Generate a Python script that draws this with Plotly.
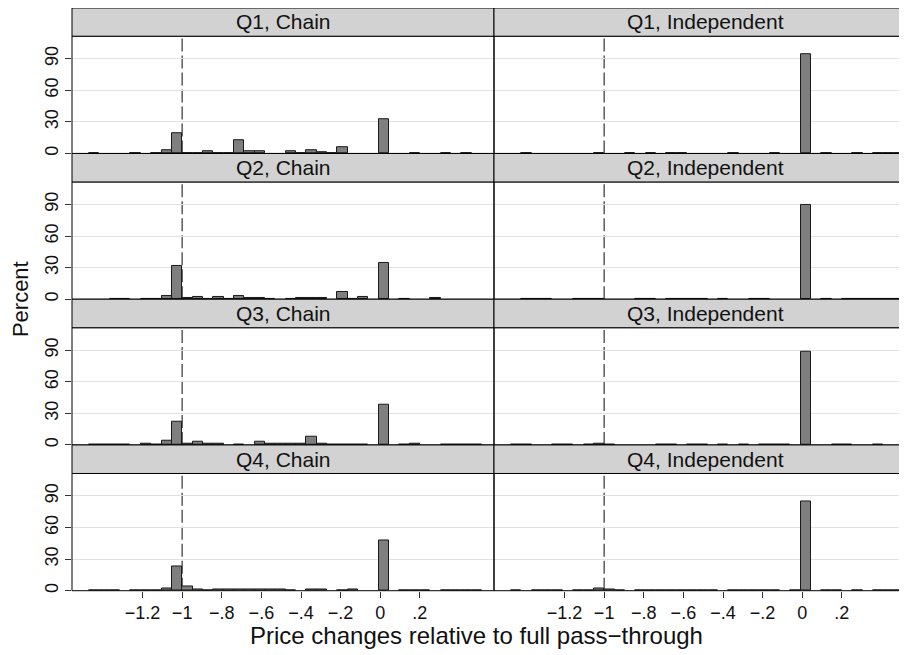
import plotly.graph_objects as go

# ---------------- data ----------------
bin_start = -1.4696
bin_width = 0.0522
n_bins = 38

panel_titles = ["Q1, Chain", "Q1, Independent", "Q2, Chain", "Q2, Independent",
                "Q3, Chain", "Q3, Independent", "Q4, Chain", "Q4, Independent"]

q1_chain = [0.7, 0, 0, 0, 0.7, 0, 0.7, 2.8, 19.5, 0.5, 0.5, 1.9, 0.5, 0.5, 12.5, 1.9, 1.9, 0, 0,
            1.9, 0.3, 2.8, 1.2, 0.5, 6.3, 0, 0, 0, 32.5, 0, 0, 0.7, 0, 0, 0.7, 0, 0.7, 0]
q2_chain = [0, 0, 0.5, 0.5, 0, 0.5, 0.5, 3.5, 31.5, 1.2, 2.5, 0.7, 2, 0.3, 3.5, 0.8, 0.8, 0.5, 0,
            0.5, 1.5, 0.8, 0.8, 0, 7, 0.5, 1.9, 0, 34, 0, 0.5, 0, 0, 1.5, 0, 0, 0, 0]
q3_chain = [0.3, 0.3, 0.5, 0.3, 0, 1.5, 0.5, 4.5, 22.5, 0.8, 3, 1.6, 1.6, 0, 0.3, 0, 2.8, 0.8, 0.8,
            0.8, 0.8, 8, 0.8, 0.5, 0.3, 0.3, 0.3, 0, 38.5, 0, 0.5, 1.5, 0, 0, 0.3, 0.3, 0.3, 0.3]
q4_chain = [0.3, 0.3, 0.3, 0, 0.3, 0.3, 0.6, 2.2, 23.5, 4.4, 1.6, 0.5, 1, 1.3, 1.3, 0.8, 1.3, 1.3, 0.8,
            0.5, 0, 0.8, 0.8, 0, 0.5, 0.8, 0, 0, 48, 0, 0.3, 0.3, 0.3, 0, 0.5, 0.5, 0.3, 0.3]
q1_indep = [0, 0.4, 0, 0, 0, 0, 0, 0, 0.4, 0, 0, 0.6, 0, 0.4, 0, 0.4, 0.4, 0, 0,
            0, 0, 0.4, 0, 0, 0, 0.4, 0, 0, 94, 0, 0.4, 0, 0, 0.4, 0, 0.4, 0.4, 0.4]
q2_indep = [0, 0.3, 0.3, 0.3, 0, 0, 0.4, 0.4, 0.4, 0, 0, 0, 0.3, 0.3, 0, 0.3, 0.3, 0.3, 0.3,
            0, 0.3, 0, 0, 0.3, 0.3, 0, 0, 0, 90, 0, 0.3, 0, 0.3, 0.3, 0.3, 0.3, 0.3, 0.3]
q3_indep = [0.3, 0.3, 0, 0, 0.3, 0.3, 0, 0.4, 0.8, 0.3, 0, 0, 0, 0, 0.4, 0.4, 0, 0.4, 0.4,
            0, 0.3, 0, 0.3, 0, 0.3, 0.3, 0.3, 0, 89, 0, 0, 0.3, 0.3, 0, 0, 0.3, 0, 0]
q4_indep = [0.3, 0, 0.3, 0.3, 0.3, 0, 0.3, 0.3, 2.2, 1.2, 0.4, 0, 0.3, 0.3, 0.3, 0.3, 0.3, 0.3, 0.3,
            0.3, 0, 0.3, 0.3, 0.3, 0.3, 0.3, 0, 0.3, 85, 0, 0.3, 0.3, 0, 0.3, 0, 0.3, 0.3, 0.3]

panel_values = [q1_chain, q1_indep, q2_chain, q2_indep, q3_chain, q3_indep, q4_chain, q4_indep]

x_tickvals = [-1.2, -1.0, -0.8, -0.6, -0.4, -0.2, 0.0, 0.2]
x_ticktext = ["\u22121.2", "\u22121", "\u2212.8", "\u2212.6", "\u2212.4", "\u2212.2", "0", ".2"]
y_tickvals = [0, 30, 60, 90]
y_ticktext = ["0", "30", "60", "90"]
ref_line_x = -1.0

x_title = "Price changes relative to full pass\u2212through"
y_title = "Percent"

# ---------------- layout geometry (pixels, page offset of 8px removed) ----------------
W, H = 907, 655
OFF = 8
FONT = "Liberation Sans, Arial, sans-serif"
col_px = [(72 - OFF, 494 - OFF), (494 - OFF, 907)]
row_top0 = 7.7 - OFF
row_h = 146.2
strip_h = 28.6
px_per_unit = 198.1
x_lo = -1.556
y_max = 111.4


def px2x(p):
    return p / W


def px2y(p):
    return 1 - p / H


centers = [bin_start + bin_width * (i + 0.5) for i in range(n_bins)]

fig = go.Figure()
shapes = []
annotations = []

for k in range(8):
    r, c = divmod(k, 2)
    ax = "" if k == 0 else str(k + 1)
    xa, ya = "x" + ax, "y" + ax
    strip_top = max(row_top0 + r * row_h, 0)
    strip_bot = row_top0 + r * row_h + strip_h
    plot_bot = row_top0 + (r + 1) * row_h
    x0p, x1p = col_px[c]

    vals = [v if v > 0 else None for v in panel_values[k]]
    fig.add_trace(go.Bar(
        x=centers, y=vals, width=bin_width, xaxis=xa, yaxis=ya,
        marker=dict(color="#7f7f7f", line=dict(color="#1a1a1a", width=1)),
        showlegend=False, hoverinfo="skip"))

    bottom = (r == 3)
    fig.update_layout(**{
        ("xaxis" + ax): dict(
            domain=[px2x(x0p), px2x(x1p)], anchor=ya,
            range=[x_lo, x_lo + (x1p - x0p) / px_per_unit],
            showgrid=False, zeroline=False, showline=False,
            tickvals=x_tickvals, ticktext=x_ticktext,
            showticklabels=bottom, ticks="outside" if bottom else "",
            ticklen=6, tickwidth=1, tickcolor="#333333",
            tickfont=dict(family=FONT, size=18, color="#111111"),
            fixedrange=True),
        ("yaxis" + ax): dict(
            domain=[px2y(plot_bot), px2y(strip_bot)], anchor=xa,
            range=[0, y_max], showgrid=True, gridcolor="#e2e2e2", gridwidth=1,
            zeroline=False, showline=False,
            tickvals=y_tickvals, ticktext=y_ticktext,
            showticklabels=(c == 0), ticks="outside" if c == 0 else "",
            ticklen=6, tickwidth=1, tickcolor="#333333", tickangle=-90,
            tickfont=dict(family=FONT, size=18, color="#111111"),
            fixedrange=True),
    })

    # dashed reference line at -1
    shapes.append(dict(type="line", xref=xa, yref=ya + " domain",
                       x0=ref_line_x, x1=ref_line_x, y0=0, y1=1,
                       line=dict(color="#333333", width=1.2, dash="13px,4px"),
                       layer="below"))
    # plot-area border
    shapes.append(dict(type="rect", xref="paper", yref="paper",
                       x0=px2x(x0p), x1=px2x(x1p), y0=px2y(plot_bot), y1=px2y(strip_bot),
                       line=dict(color="#000000", width=1), fillcolor="rgba(0,0,0,0)",
                       layer="above"))
    # strip
    shapes.append(dict(type="rect", xref="paper", yref="paper",
                       x0=px2x(x0p), x1=px2x(x1p), y0=px2y(strip_bot), y1=px2y(strip_top),
                       line=dict(color="#000000", width=1), fillcolor="#d2d2d2",
                       layer="above"))
    annotations.append(dict(text=panel_titles[k], xref="paper", yref="paper",
                            x=px2x(x0p + 211),
                            y=px2y(row_top0 + r * row_h + strip_h / 2),
                            xanchor="center", yanchor="middle", showarrow=False,
                            font=dict(family=FONT, size=21, color="#111111")))

annotations.append(dict(text=x_title, xref="paper", yref="paper",
                        x=px2x(476 - OFF), y=px2y(637 - OFF), xanchor="center", yanchor="middle",
                        showarrow=False, font=dict(family=FONT, size=24, color="#111111")))
annotations.append(dict(text=y_title, xref="paper", yref="paper",
                        x=px2x(12), y=px2y(300 - OFF), xanchor="center", yanchor="middle",
                        textangle=-90, showarrow=False,
                        font=dict(family=FONT, size=22, color="#111111")))

fig.update_layout(
    width=W, height=H, margin=dict(l=0, r=0, t=0, b=0),
    paper_bgcolor="white", plot_bgcolor="white",
    bargap=0, shapes=shapes, annotations=annotations,
    font=dict(family=FONT, color="#111111"),
)

fig.write_html("out.html")
